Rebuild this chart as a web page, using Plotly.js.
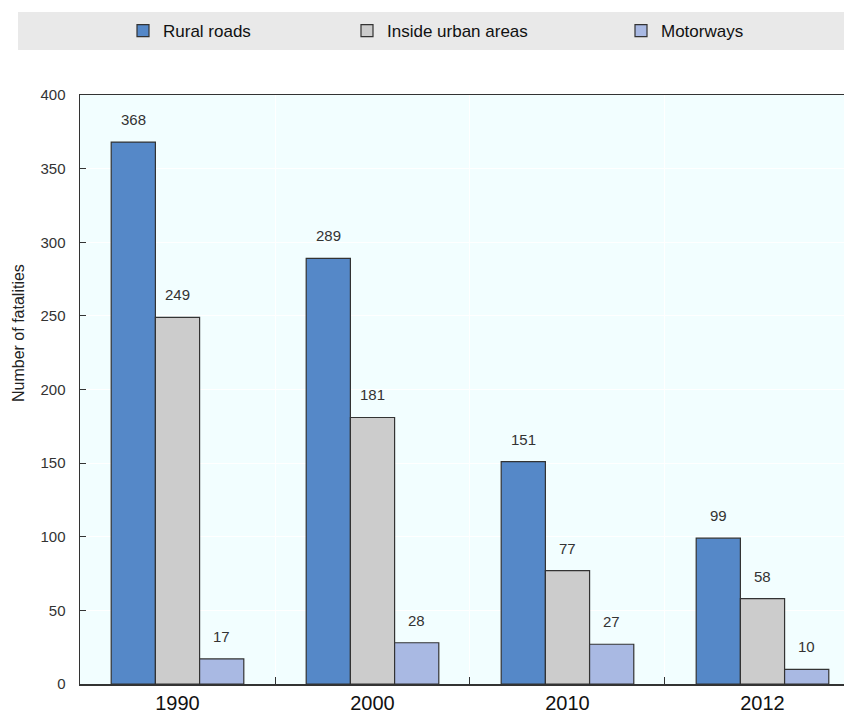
<!DOCTYPE html>
<html>
<head>
<meta charset="utf-8">
<script src="https://cdn.plot.ly/plotly-3.0.1.min.js"></script>
<style>html,body{margin:0;padding:0;background:#fff;}#chart{width:844px;height:718px;}</style>
</head>
<body>
<div id="chart"></div>
<script>
const years = ['1990', '2000', '2010', '2012'];
const seriesNames = ['Rural roads', 'Inside urban areas', 'Motorways'];
const rural = [368, 289, 151, 99];
const urban = [249, 181, 77, 58];
const motorways = [17, 28, 27, 10];
const yTicks = [0, 50, 100, 150, 200, 250, 300, 350, 400];

const FONT = '"Liberation Sans Narrow", "Arial Narrow", "Liberation Sans", Arial, sans-serif';
const colors = ['#5588C8', '#CCCCCC', '#A9B9E3'];
const values = [rural, urban, motorways];
const xpos = years.map((_, i) => i);
const BARGAP = 0.32;
const barW = (1 - BARGAP) / seriesNames.length;

const traces = seriesNames.map((name, k) => ({
  type: 'bar',
  name: name,
  x: xpos,
  y: values[k],
  marker: {color: colors[k], line: {color: '#333', width: 1.2}},
  legend: k === 0 ? 'legend' : (k === 1 ? 'legend2' : 'legend3'),
  hoverinfo: 'x+y'
}));

const labelAnnotations = [];
values.forEach((arr, k) => {
  arr.forEach((v, i) => {
    labelAnnotations.push({
      x: i + (k - 1) * barW, y: v, xref: 'x', yref: 'y',
      text: String(v), showarrow: false, yanchor: 'bottom', yshift: 12,
      font: {family: FONT, size: 15, color: '#333'}
    });
  });
});

const px2x = p => (p - 80) / 764;
const px2y = p => (684 - p) / 589;

const legendBase = {
  orientation: 'h', yanchor: 'middle', xanchor: 'left', y: px2y(31),
  bgcolor: 'rgba(0,0,0,0)', font: {family: FONT, size: 17, color: '#111'},
  itemwidth: 30, tracegroupgap: 0
};

const layout = {
  width: 844, height: 718,
  margin: {l: 80, r: 0, t: 95, b: 34},
  paper_bgcolor: '#ffffff',
  plot_bgcolor: '#F2FEFF',
  barmode: 'group',
  bargap: BARGAP,
  bargroupgap: 0,
  font: {family: FONT, color: '#333'},
  xaxis: {
    range: [-0.5, 3.418],
    tickmode: 'array', tickvals: xpos, ticktext: years,
    ticks: '', showgrid: false, zeroline: false,
    showline: true, linecolor: '#333', linewidth: 1.5, mirror: true,
    tickfont: {family: FONT, size: 20, color: '#111'},
    minor: {tickmode: 'array', tickvals: [0.5, 1.5, 2.5], ticks: 'inside', ticklen: 7, tickcolor: '#333', tickwidth: 1, showgrid: true, gridcolor: '#ffffff', gridwidth: 1}
  },
  yaxis: {
    range: [0, 400], tickmode: 'array', tickvals: yTicks,
    ticks: 'inside', ticklen: 6, tickcolor: '#333',
    ticklabelstandoff: 10,
    showline: true, linecolor: '#333', linewidth: 1.5,
    showgrid: true, gridcolor: '#ffffff', gridwidth: 1, zeroline: false,
    tickfont: {family: FONT, size: 15, color: '#333'}
  },
  showlegend: true,
  legend: Object.assign({}, legendBase, {x: px2x(123)}),
  legend2: Object.assign({}, legendBase, {x: px2x(347)}),
  legend3: Object.assign({}, legendBase, {x: px2x(621)}),
  shapes: [{
    type: 'rect', xref: 'paper', yref: 'paper', layer: 'below',
    x0: px2x(18), x1: 1, y0: px2y(50), y1: px2y(12),
    fillcolor: '#E9E9E9', line: {width: 0}
  }],
  annotations: labelAnnotations.concat([{
    text: 'Number of fatalities', xref: 'paper', yref: 'paper',
    x: px2x(18), y: px2y(333), textangle: -90, showarrow: false,
    xanchor: 'center', yanchor: 'middle',
    font: {family: FONT, size: 16, color: '#222'}
  }])
};

Plotly.newPlot('chart', traces, layout, {displayModeBar: false, staticPlot: true});
</script>
</body>
</html>
